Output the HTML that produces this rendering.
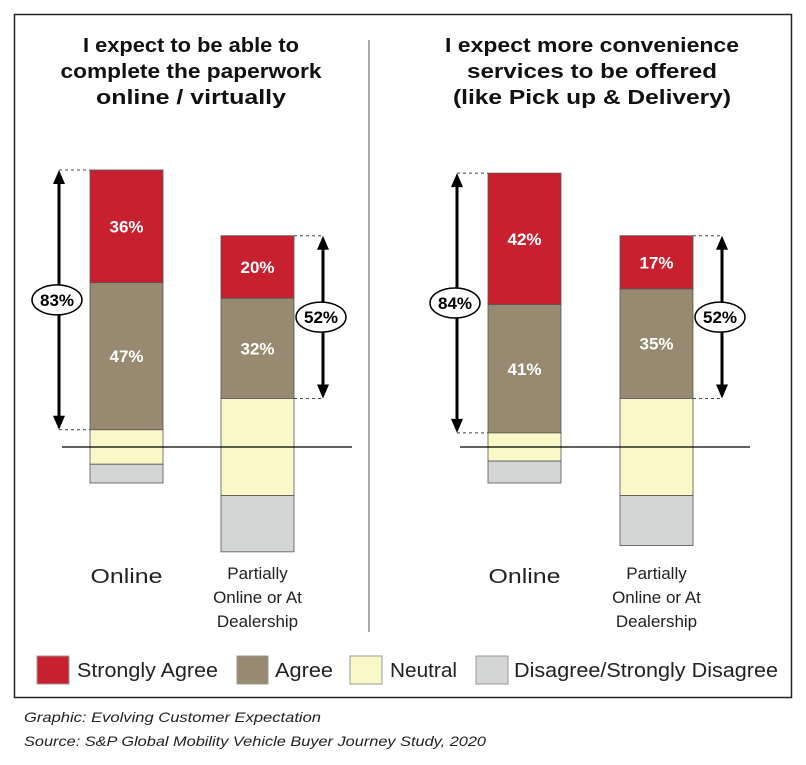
<!DOCTYPE html>
<html><head><meta charset="utf-8"><style>
body{margin:0;background:#fff;width:806px;height:760px;overflow:hidden;font-family:"Liberation Sans",sans-serif}
</style></head><body>
<svg id="c" width="806" height="760" xmlns="http://www.w3.org/2000/svg" font-family="Liberation Sans, sans-serif">
<rect x="14.5" y="14.5" width="777" height="683" fill="#fff" stroke="#222" stroke-width="1.5"/>
<line x1="369" y1="40" x2="369" y2="632" stroke="#555" stroke-width="1"/>
<g font-weight="bold" font-size="20" text-anchor="middle" fill="#111">
<text x="191" y="52" textLength="216" lengthAdjust="spacingAndGlyphs">I expect to be able to</text><text x="191" y="78" textLength="261" lengthAdjust="spacingAndGlyphs">complete the paperwork</text><text x="191" y="104" textLength="190" lengthAdjust="spacingAndGlyphs">online / virtually</text></g>
<g font-weight="bold" font-size="20" text-anchor="middle" fill="#111">
<text x="592" y="52" textLength="294" lengthAdjust="spacingAndGlyphs">I expect more convenience</text><text x="592" y="78" textLength="250" lengthAdjust="spacingAndGlyphs">services to be offered</text><text x="592" y="104" textLength="278" lengthAdjust="spacingAndGlyphs">(like Pick up &amp; Delivery)</text></g>
<g id="bars"></g>
<g font-size="20" fill="#222">
<rect x="37" y="656" width="32" height="28" fill="#c8202f" stroke="#999"/><text x="77" y="677" textLength="141" lengthAdjust="spacingAndGlyphs">Strongly Agree</text>
<rect x="237" y="656" width="31" height="28" fill="#978a70" stroke="#999"/><text x="275" y="677" textLength="58" lengthAdjust="spacingAndGlyphs">Agree</text>
<rect x="350" y="656" width="32" height="28" fill="#fbf8c8" stroke="#999"/><text x="390" y="677" textLength="67" lengthAdjust="spacingAndGlyphs">Neutral</text>
<rect x="476" y="656" width="32" height="28" fill="#d4d6d6" stroke="#999"/><text x="514" y="677" textLength="264" lengthAdjust="spacingAndGlyphs">Disagree/Strongly Disagree</text>
</g>
<g font-size="14" font-style="italic" fill="#222">
<text x="24" y="722" textLength="297" lengthAdjust="spacingAndGlyphs">Graphic: Evolving Customer Expectation</text>
<text x="24" y="746" textLength="462" lengthAdjust="spacingAndGlyphs">Source: S&amp;P Global Mobility Vehicle Buyer Journey Study, 2020</text></g>
</svg>
<script>
const categories=["Online","Partially Online or At Dealership"];
const leftStrong=[36,20], leftAgree=[47,32], leftNeutral=[11,31], leftDisagree=[6,18];
const rightStrong=[42,17], rightAgree=[41,35], rightNeutral=[9,31], rightDisagree=[7,16];
const leftTotals=[83,52], rightTotals=[84,52];
const NS="http://www.w3.org/2000/svg";
const g=document.getElementById('bars');
const base=447, k=3.13;
const y=v=>base-v*k;
function el(t,a){const e=document.createElementNS(NS,t);for(const n in a)e.setAttribute(n,a[n]);g.appendChild(e);return e;}
const panels=[
 {p:'left',x0:62,x1:352,xs:[90,221],s:leftStrong,a:leftAgree,n:leftNeutral,d:leftDisagree,t:leftTotals},
 {p:'right',x0:460,x1:750,xs:[488,620],s:rightStrong,a:rightAgree,n:rightNeutral,d:rightDisagree,t:rightTotals}];
panels.forEach(P=>{
 for(let i=0;i<2;i++){
  const bx=P.xs[i],w=73;
  const nb=P.n[i]/2, aTop=nb+P.a[i], sTop=aTop+P.s[i], dBot=-nb-P.d[i];
  const segs=[['strong',sTop,aTop,'#c8202f',P.s[i]],['agree',aTop,nb,'#978a70',P.a[i]],['neutral',nb,-nb,'#fbf8c8',null],['disagree',-nb,dBot,'#d4d6d6',null]];
  segs.forEach(s=>{
   const r=el('rect',{x:bx,y:y(s[1]),width:w,height:y(s[2])-y(s[1]),fill:s[3],stroke:'#555','stroke-width':0.8});
   
   
   if(s[4]!==null){const t=el('text',{x:bx+w/2,y:(y(s[1])+y(s[2]))/2+6,'text-anchor':'middle','font-size':17,'font-weight':'bold',fill:'#fff'});t.textContent=s[4]+'%';
    
    }
  });
  const ax=i==0?bx-31:bx+w+29, top=y(sTop), bot=y(nb);
  const lx1=i==0?ax:bx+w, lx2=i==0?bx:ax;
  [top,bot].forEach(yy=>{const l=el('line',{x1:lx1,y1:yy,x2:lx2,y2:yy,stroke:'#444','stroke-dasharray':'3,3','stroke-width':1});
   
   });
  const ln=el('line',{x1:ax,y1:top+10,x2:ax,y2:bot-10,stroke:'#000','stroke-width':3});
  
  
  el('polygon',{points:`${ax-6},${top+14} ${ax+6},${top+14} ${ax},${top}`,fill:'#000'});
  el('polygon',{points:`${ax-6},${bot-14} ${ax+6},${bot-14} ${ax},${bot}`,fill:'#000'});
  const cy=(top+bot)/2;
  const e=el('ellipse',{cx:ax-2,cy:cy,rx:25,ry:15,fill:'#fff',stroke:'#000','stroke-width':1.5});
  
  
  const tt=el('text',{x:ax-2,y:cy+6,'text-anchor':'middle','font-size':17,'font-weight':'bold',fill:'#000'});tt.textContent=P.t[i]+'%';
  
  
  if(i==0){const c=el('text',{x:bx+w/2,y:583,'text-anchor':'middle','font-size':20,fill:'#222',textLength:72,lengthAdjust:'spacingAndGlyphs'});c.textContent=categories[0];
   
   }
  else{["Partially","Online or At","Dealership"].forEach((s,j)=>{const c=el('text',{x:bx+w/2,y:579+j*24,'text-anchor':'middle','font-size':17,fill:'#222'});c.textContent=s;
   
   });}
 }
 const b=el('line',{x1:P.x0,y1:base,x2:P.x1,y2:base,stroke:'#000','stroke-width':1.3});
 
 
});
</script>
</body></html>
